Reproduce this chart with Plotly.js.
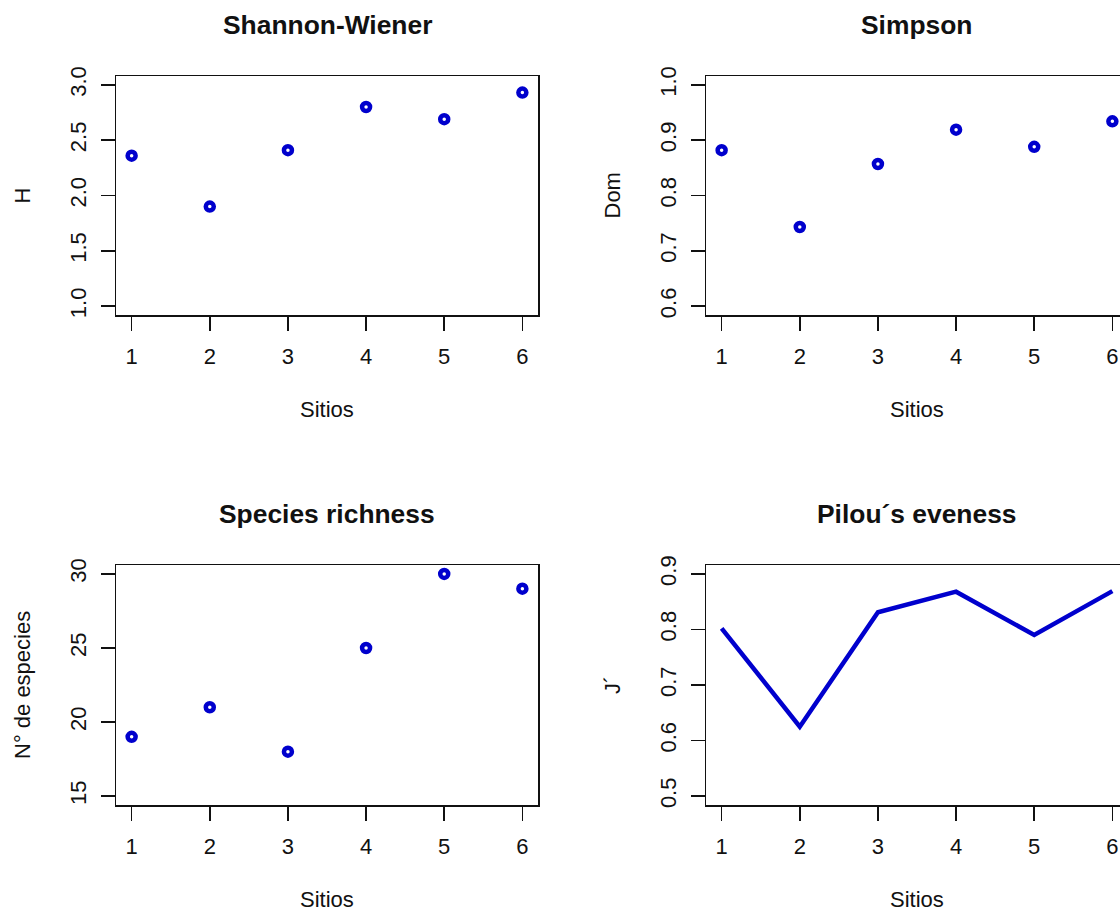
<!DOCTYPE html>
<html><head><meta charset="utf-8">
<script src="https://cdn.plot.ly/plotly-3.0.1.min.js"></script>
<style>html,body{margin:0;padding:0;overflow:hidden;background:#fff}</style>
</head><body><div id="chart" style="width:1140px;height:911px"></div>
<script>
// ---- data ----
const sitios = [1, 2, 3, 4, 5, 6];
const shannon = [2.36, 1.90, 2.41, 2.80, 2.69, 2.93];
const simpson = [0.882, 0.743, 0.857, 0.919, 0.888, 0.934];
const riqueza = [19, 21, 18, 25, 30, 29];
const pielou = [0.802, 0.625, 0.831, 0.868, 0.790, 0.869];

const xTicks = [1, 2, 3, 4, 5, 6];
const xTickText = ['1', '2', '3', '4', '5', '6'];
const hTicks = [1.0, 1.5, 2.0, 2.5, 3.0];
const hTickText = ['1.0', '1.5', '2.0', '2.5', '3.0'];
const domTicks = [0.6, 0.7, 0.8, 0.9, 1.0];
const domTickText = ['0.6', '0.7', '0.8', '0.9', '1.0'];
const richTicks = [15, 20, 25, 30];
const richTickText = ['15', '20', '25', '30'];
const jTicks = [0.5, 0.6, 0.7, 0.8, 0.9];
const jTickText = ['0.5', '0.6', '0.7', '0.8', '0.9'];

const panelTitles = ['Shannon-Wiener', 'Simpson', 'Species richness', 'Pilou\u00b4s eveness'];
const yTitles = ['H', 'Dom', 'N\u00b0 de especies', 'J\u00b4'];
const xTitle = 'Sitios';

// ---- layout geometry (pixels) ----
const W = 1140, H = 911;
const colBox = [[116, 538], [706, 1128]];
const rowBox = [[76, 315], [565, 805]];
const FONT = 'Liberation Sans, Arial, sans-serif';
const BLUE = '#0000CD';
const INK = '#111111';

function pxX(x) { return x / W; }
function pxY(y) { return 1 - y / H; }
function pad(lo, hi) { const d = (hi - lo) * 0.04; return [lo - d, hi + d]; }

const ringMarker = {symbol: 'circle-open', size: 8, color: BLUE, line: {width: 4.5, color: BLUE}};

const traces = [
  {x: sitios, y: shannon, xaxis: 'x', yaxis: 'y', type: 'scatter', mode: 'markers', marker: ringMarker},
  {x: sitios, y: simpson, xaxis: 'x2', yaxis: 'y2', type: 'scatter', mode: 'markers', marker: ringMarker},
  {x: sitios, y: riqueza, xaxis: 'x3', yaxis: 'y3', type: 'scatter', mode: 'markers', marker: ringMarker},
  {x: sitios, y: pielou, xaxis: 'x4', yaxis: 'y4', type: 'scatter', mode: 'lines',
   line: {width: 4.5, color: BLUE}}
];

const yConf = [
  {range: pad(1, 3), tickvals: hTicks, ticktext: hTickText},
  {range: pad(0.6, 1.0), tickvals: domTicks, ticktext: domTickText},
  {range: pad(15, 30), tickvals: richTicks, ticktext: richTickText},
  {range: pad(0.5, 0.9), tickvals: jTicks, ticktext: jTickText}
];

const layout = {
  width: W, height: H,
  margin: {l: 0, r: 0, t: 0, b: 0},
  paper_bgcolor: '#ffffff', plot_bgcolor: '#ffffff',
  showlegend: false,
  font: {family: FONT, size: 22, color: INK},
  annotations: []
};

for (let i = 0; i < 4; i++) {
  const c = i % 2, r = Math.floor(i / 2);
  const sfx = i === 0 ? '' : String(i + 1);
  const cb = colBox[c], rb = rowBox[r];
  const common = {
    showline: true, mirror: true, linecolor: INK, linewidth: 1.5,
    ticks: 'outside', ticklen: 14, tickwidth: 1.5, tickcolor: INK,
    showgrid: false, zeroline: false, automargin: false, fixedrange: true,
    tickfont: {family: FONT, size: 22, color: INK}
  };
  layout['xaxis' + sfx] = Object.assign({}, common, {
    anchor: 'y' + sfx,
    domain: [pxX(cb[0]), pxX(cb[1])],
    range: pad(1, 6),
    tickvals: xTicks, ticktext: xTickText,
    ticklabelstandoff: 7
  });
  layout['yaxis' + sfx] = Object.assign({}, common, {
    anchor: 'x' + sfx,
    domain: [pxY(rb[1]), pxY(rb[0])],
    range: yConf[i].range,
    tickvals: yConf[i].tickvals, ticktext: yConf[i].ticktext,
    tickangle: -90,
    ticklabelstandoff: 6
  });
  const cx = (cb[0] + cb[1]) / 2;
  const cy = (rb[0] + rb[1]) / 2;
  layout.annotations.push({
    text: '<b>' + panelTitles[i] + '</b>', xref: 'paper', yref: 'paper',
    x: pxX(cx), y: pxY(rb[0] - 51), xanchor: 'center', yanchor: 'middle',
    showarrow: false, font: {family: FONT, size: 26.4, color: INK}
  });
  layout.annotations.push({
    text: xTitle, xref: 'paper', yref: 'paper',
    x: pxX(cx), y: pxY(rb[1] + 94), xanchor: 'center', yanchor: 'middle',
    showarrow: false, font: {family: FONT, size: 22, color: INK}
  });
  layout.annotations.push({
    text: yTitles[i], xref: 'paper', yref: 'paper',
    x: pxX(cb[0] - 94), y: pxY(cy), xanchor: 'center', yanchor: 'middle',
    textangle: -90, showarrow: false, font: {family: FONT, size: 22, color: INK}
  });
}

Plotly.newPlot('chart', traces, layout, {displayModeBar: false, staticPlot: true});
</script>
</body></html>
